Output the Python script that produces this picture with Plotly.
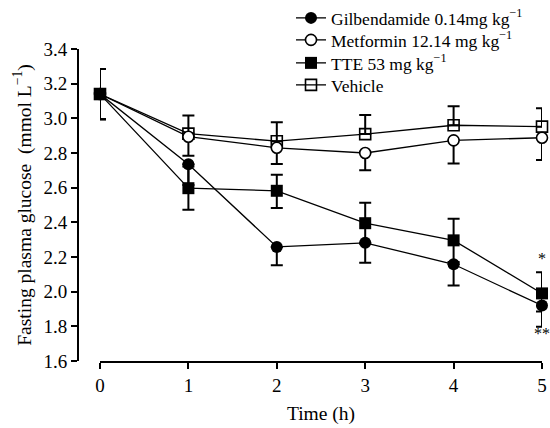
import plotly.graph_objects as go

time_h = [0, 1, 2, 3, 4, 5]

glib = [3.14, 2.735, 2.258, 2.282, 2.158, 1.920]
glib_err_minus = [0.145, 0.12, 0.105, 0.115, 0.122, 0.122]

metf = [3.14, 2.894, 2.830, 2.800, 2.873, 2.888]
metf_err_minus = [0.145, 0.11, 0.093, 0.10, 0.133, 0.128]

tte = [3.14, 2.597, 2.582, 2.395, 2.296, 1.990]
tte_err = [0.145, 0.125, 0.093, 0.118, 0.125, 0.122]
tte_err_minus = [0.145, 0.125, 0.100, 0.118, 0.125, 0.105]

veh = [3.14, 2.912, 2.868, 2.909, 2.960, 2.952]
veh_err_plus = [0.145, 0.104, 0.110, 0.110, 0.110, 0.106]

names = [
    "Gilbendamide 0.14mg kg<sup>−1</sup>",
    "Metformin 12.14 mg kg<sup>−1</sup>",
    "TTE 53 mg kg<sup>−1</sup>",
    "Vehicle",
]

star_labels = ["*", "**"]
star_y = [2.19, 1.757]

FONT = "Liberation Serif, Times New Roman, serif"

W, H = 550, 428
L, R, T, B = 78, 8, 49, 67
pw = W - L - R
ph = H - T - B

fig = go.Figure()

def err(plus, minus):
    return dict(type="data", symmetric=False, array=plus, arrayminus=minus,
                color="black", thickness=2, width=6)

zeros = [0] * 6

fig.add_trace(go.Scatter(
    x=time_h, y=veh, name=names[3], mode="lines+markers", legend="legend4",
    line=dict(color="black", width=1.3), cliponaxis=False,
    marker=dict(symbol="square-open", size=11, color="black", line=dict(width=1.6)),
    error_y=err(veh_err_plus, zeros),
))
fig.add_trace(go.Scatter(
    x=time_h, y=metf, name=names[1], mode="lines+markers", legend="legend2",
    line=dict(color="black", width=1.3), cliponaxis=False,
    marker=dict(symbol="circle", size=11, color="white", line=dict(width=1.6, color="black")),
    error_y=err(zeros, metf_err_minus),
))
fig.add_trace(go.Scatter(
    x=time_h, y=tte, name=names[2], mode="lines+markers", legend="legend3",
    line=dict(color="black", width=1.3), cliponaxis=False,
    marker=dict(symbol="square", size=12, color="black"),
    error_y=err(tte_err, tte_err_minus),
))
fig.add_trace(go.Scatter(
    x=time_h, y=glib, name=names[0], mode="lines+markers", legend="legend",
    line=dict(color="black", width=1.3), cliponaxis=False,
    marker=dict(symbol="circle", size=12, color="black"),
    error_y=err(zeros, glib_err_minus),
))

for lab, yv in zip(star_labels, star_y):
    fig.add_annotation(x=5, y=yv, text=lab, showarrow=False,
                       font=dict(family=FONT, size=16, color="black"),
                       xanchor="center", yanchor="middle")

def leg(pix_y):
    return dict(
        x=(291 - L) / pw, y=(H - B - pix_y) / ph, xanchor="left", yanchor="middle",
        bgcolor="rgba(0,0,0,0)", itemwidth=30,
        font=dict(family=FONT, size=17.5, color="black"),
    )

fig.update_layout(
    width=W, height=H,
    margin=dict(l=L, r=R, t=T, b=B, autoexpand=False),
    paper_bgcolor="white", plot_bgcolor="white",
    font=dict(family=FONT, size=19, color="black"),
    showlegend=True,
    legend=leg(18),
    legend2=leg(40),
    legend3=leg(63),
    legend4=leg(85),
    xaxis=dict(
        domain=[(100 - L) / pw, 1], range=[0, 5], tickvals=time_h,
        showline=True, linecolor="black", linewidth=2,
        ticks="outside", ticklen=6, tickwidth=2, tickcolor="black",
        showgrid=False, zeroline=False,
        title=dict(text="Time (h)", standoff=12, font=dict(size=19.5)),
        tickfont=dict(size=19),
    ),
    yaxis=dict(
        anchor="free", position=0,
        range=[1.6, 3.4], dtick=0.2, tickformat=".1f",
        showline=True, linecolor="black", linewidth=2,
        ticks="outside", ticklen=6, tickwidth=2, tickcolor="black",
        showgrid=False, zeroline=False,
        title=dict(text="Fasting plasma glucose  (mmol L<sup>−1</sup>)", standoff=6, font=dict(size=19.5)),
        tickfont=dict(size=19),
    ),
)

fig.write_html("out.html")
